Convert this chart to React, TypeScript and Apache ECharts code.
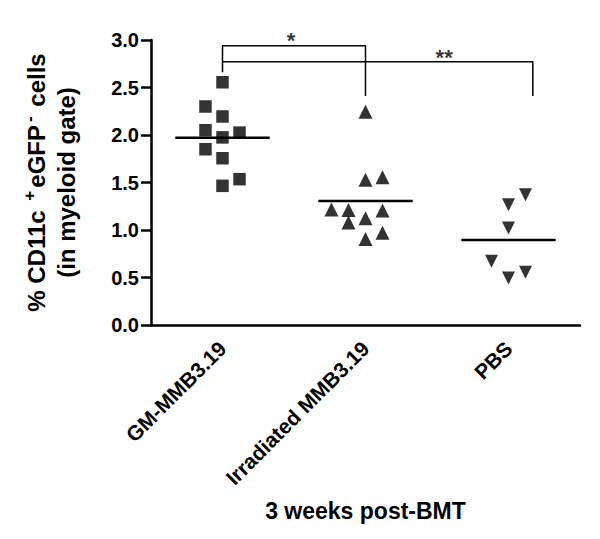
import React, { useEffect, useRef } from "react";
import * as echarts from "echarts";

const categories = ["GM-MMB3.19", "Irradiated MMB3.19", "PBS"];
const yTicks = [0, 0.5, 1, 1.5, 2, 2.5, 3];

const gmValues = [2.555, 2.3, 2.195, 2.05, 2.025, 1.975, 1.85, 1.755, 1.535, 1.465];
const gmJitter = [0, -1, 0, -1, 1, 0, -1, 0, 1, 0];

const irrValues = [2.245, 1.555, 1.53, 1.215, 1.21, 1.205, 1.125, 1.08, 0.97, 0.905];
const irrJitter = [0, 1, 0, -2, -1, 1, 0, -1, 1, 0];

const pbsValues = [1.37, 1.265, 1.02, 0.67, 0.555, 0.495];
const pbsJitter = [1, 0, 0, -1, 1, 0];

const significance = ["*", "**"];

const FONT = "'Liberation Sans', Arial, Helvetica, sans-serif";
const JIT = 0.119;
const HALF = 0.33;

const mean = (a: number[]) => a.reduce((s, v) => s + v, 0) / a.length;

function pts(vals: number[], jit: number[], idx: number) {
  return vals.map((v, i) => [idx + jit[i] * JIT, v]);
}

export default function App() {
  const ref = useRef<HTMLDivElement>(null);
  useEffect(() => {
    if (!ref.current) return;
    const chart = echarts.init(ref.current, undefined, { renderer: "svg" });
    const groups = [
      { vals: gmValues, jit: gmJitter, symbol: "rect", rotate: 0, size: 12.5 },
      { vals: irrValues, jit: irrJitter, symbol: "triangle", rotate: 0, size: 14 },
      { vals: pbsValues, jit: pbsJitter, symbol: "triangle", rotate: 180, size: 13 },
    ];
    const series: any[] = [];
    groups.forEach((g, idx) => {
      series.push({
        type: "scatter",
        xAxisIndex: 1,
        symbol: g.symbol,
        symbolRotate: g.rotate,
        symbolSize: g.size,
        itemStyle: { color: "#000" },
        data: pts(g.vals, g.jit, idx),
        z: 3,
      });
      const m = mean(g.vals);
      series.push({
        type: "line",
        xAxisIndex: 1,
        symbol: "none",
        lineStyle: { color: "#000", width: 2.5 },
        data: [
          [idx - HALF, m],
          [idx + HALF, m],
        ],
        z: 4,
      });
    });
    // significance brackets
    series.push({
      type: "line",
      xAxisIndex: 1,
      symbol: "none",
      lineStyle: { color: "#000", width: 1.5 },
      data: [
        [0, 2.66],
        [0, 2.94],
        [1, 2.94],
        [1, 2.41],
      ],
    });
    series.push({
      type: "line",
      xAxisIndex: 1,
      symbol: "none",
      lineStyle: { color: "#000", width: 1.5 },
      data: [
        [0, 2.77],
        [2.17, 2.77],
        [2.17, 2.41],
      ],
    });
    series.push({
      type: "scatter",
      xAxisIndex: 1,
      symbolSize: 0,
      clip: false,
      label: {
        show: true,
        position: "inside",
        formatter: (p: any) => p.data[2],
        color: "#000",
        fontFamily: FONT,
        fontWeight: "bold",
        fontSize: 22,
      },
      data: [
        [0.48, 3.0, significance[0]],
        [1.55, 2.82, significance[1]],
      ],
    });

    chart.setOption({
      animation: false,
      backgroundColor: "#fff",
      textStyle: { fontFamily: FONT },
      grid: { left: 151, right: 20, top: 40, bottom: 214, containLabel: false },
      xAxis: [
        {
          type: "category",
          data: categories,
          boundaryGap: true,
          axisLine: { lineStyle: { color: "#000", width: 2.5 } },
          axisTick: { alignWithLabel: true, length: 8, lineStyle: { color: "#000", width: 2.5 } },
          axisLabel: {
            rotate: 45,
            margin: 20,
            color: "#000",
            fontFamily: FONT,
            fontWeight: "bold",
            fontSize: 21,
          },
          name: "3 weeks post-BMT",
          nameLocation: "middle",
          nameGap: 174,
          nameTextStyle: { color: "#000", fontFamily: FONT, fontWeight: "bold", fontSize: 23 },
          splitLine: { show: false },
        },
        {
          type: "value",
          min: -0.5,
          max: 2.5,
          show: false,
        },
      ],
      yAxis: {
        type: "value",
        min: yTicks[0],
        max: yTicks[yTicks.length - 1],
        interval: 0.5,
        axisLine: { show: true, onZero: false, lineStyle: { color: "#000", width: 2.5 } },
        axisTick: { show: true, length: 10, lineStyle: { color: "#000", width: 2.5 } },
        splitLine: { show: false },
        axisLabel: {
          color: "#000",
          fontFamily: FONT,
          fontWeight: "bold",
          fontSize: 20,
          margin: 12,
          formatter: (v: number) => v.toFixed(1),
        },
        name: "% CD11c {sup|+}eGFP{sup|-} cells\n(in myeloid gate)",
        nameLocation: "middle",
        nameGap: 70,
        nameRotate: 90,
        nameTextStyle: {
          color: "#000",
          fontFamily: FONT,
          fontWeight: "bold",
          fontSize: 24,
          lineHeight: 30,
          rich: {
            sup: {
              color: "#000",
              fontFamily: FONT,
              fontWeight: "bold",
              fontSize: 17,
              lineHeight: 8,
              padding: [0, 3, 0, 3],
              verticalAlign: "top",
            },
          },
        },
      },
      series,
    });
    return () => chart.dispose();
  }, []);
  return <div ref={ref} style={{ width: 600, height: 539, margin: -8 }} />;
}
